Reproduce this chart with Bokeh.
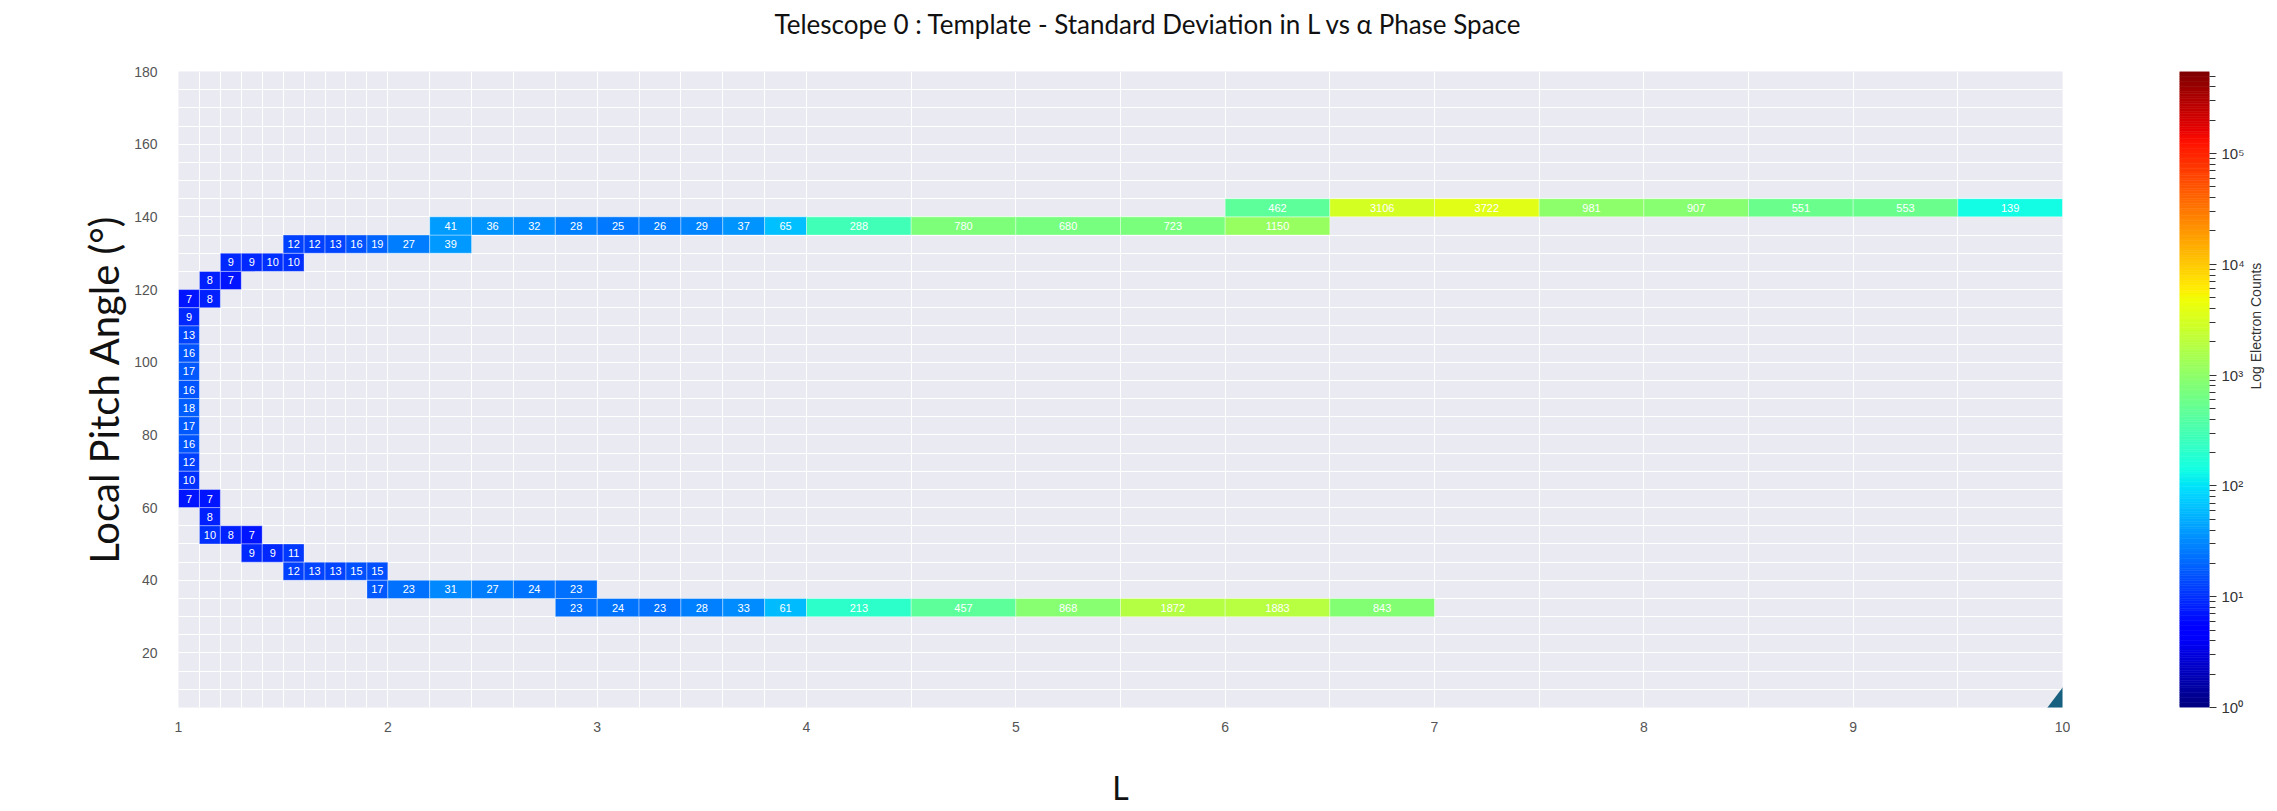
import math
import numpy as np
from bokeh.plotting import figure
from bokeh.models import (ColumnDataSource, LogColorMapper, FixedTicker, Range1d,
                          PolyAnnotation, Title)
from bokeh.layouts import row
from bokeh.embed import file_html
from bokeh.resources import INLINE
from bokeh.core.properties import value

# ---------------- data ----------------
TITLE = "Telescope 0 : Template - Standard Deviation in L vs \u03b1 Phase Space"

# bin edges in L and alpha
L_edges = [1.0, 1.1, 1.2, 1.3, 1.4, 1.5, 1.6, 1.7, 1.8, 1.9, 2.0,
           2.2, 2.4, 2.6, 2.8, 3.0, 3.2, 3.4, 3.6, 3.8, 4.0,
           4.5, 5.0, 5.5, 6.0, 6.5, 7.0, 7.5, 8.0, 8.5, 9.0, 9.5, 10.0]
alpha_edges = [5, 10, 15, 20, 25, 30, 35, 40, 45, 50, 55, 60, 65, 70, 75, 80, 85, 90,
               95, 100, 105, 110, 115, 120, 125, 130, 135, 140, 145, 150, 155, 160,
               165, 170, 175, 180]
alpha_bin = 5

# occupied cells: L start, L end, alpha start, counts
cell_L_lo = [1.0, 1.1,
             1.1, 1.2,
             1.2, 1.3, 1.4, 1.5,
             1.5, 1.6, 1.7, 1.8, 1.9, 2.0, 2.2,
             2.2, 2.4, 2.6, 2.8, 3.0, 3.2, 3.4, 3.6, 3.8, 4.0, 4.5, 5.0, 5.5, 6.0,
             6.0, 6.5, 7.0, 7.5, 8.0, 8.5, 9.0, 9.5,
             1.0, 1.0, 1.0, 1.0, 1.0, 1.0, 1.0, 1.0, 1.0, 1.0,
             1.0, 1.1,
             1.1,
             1.1, 1.2, 1.3,
             1.3, 1.4, 1.5,
             1.5, 1.6, 1.7, 1.8, 1.9,
             1.9, 2.0, 2.2, 2.4, 2.6, 2.8,
             2.8, 3.0, 3.2, 3.4, 3.6, 3.8, 4.0, 4.5, 5.0, 5.5, 6.0, 6.5]
cell_L_hi = [1.1, 1.2,
             1.2, 1.3,
             1.3, 1.4, 1.5, 1.6,
             1.6, 1.7, 1.8, 1.9, 2.0, 2.2, 2.4,
             2.4, 2.6, 2.8, 3.0, 3.2, 3.4, 3.6, 3.8, 4.0, 4.5, 5.0, 5.5, 6.0, 6.5,
             6.5, 7.0, 7.5, 8.0, 8.5, 9.0, 9.5, 10.0,
             1.1, 1.1, 1.1, 1.1, 1.1, 1.1, 1.1, 1.1, 1.1, 1.1,
             1.1, 1.2,
             1.2,
             1.2, 1.3, 1.4,
             1.4, 1.5, 1.6,
             1.6, 1.7, 1.8, 1.9, 2.0,
             2.0, 2.2, 2.4, 2.6, 2.8, 3.0,
             3.0, 3.2, 3.4, 3.6, 3.8, 4.0, 4.5, 5.0, 5.5, 6.0, 6.5, 7.0]
cell_alpha_lo = [115, 115,
                 120, 120,
                 125, 125, 125, 125,
                 130, 130, 130, 130, 130, 130, 130,
                 135, 135, 135, 135, 135, 135, 135, 135, 135, 135, 135, 135, 135, 135,
                 140, 140, 140, 140, 140, 140, 140, 140,
                 110, 105, 100, 95, 90, 85, 80, 75, 70, 65,
                 60, 60,
                 55,
                 50, 50, 50,
                 45, 45, 45,
                 40, 40, 40, 40, 40,
                 35, 35, 35, 35, 35, 35,
                 30, 30, 30, 30, 30, 30, 30, 30, 30, 30, 30, 30]
cell_counts = [7, 8,
               8, 7,
               9, 9, 10, 10,
               12, 12, 13, 16, 19, 27, 39,
               41, 36, 32, 28, 25, 26, 29, 37, 65, 288, 780, 680, 723, 1150,
               462, 3106, 3722, 981, 907, 551, 553, 139,
               9, 13, 16, 17, 16, 18, 17, 16, 12, 10,
               7, 7,
               8,
               10, 8, 7,
               9, 9, 11,
               12, 13, 13, 15, 15,
               17, 23, 31, 27, 24, 23,
               23, 24, 23, 28, 33, 61, 213, 457, 868, 1872, 1883, 843]

x_ticks = [1, 2, 3, 4, 5, 6, 7, 8, 9, 10]
y_ticks = [20, 40, 60, 80, 100, 120, 140, 160, 180]
cbar_ticks = [1, 10, 100, 1000, 10000, 100000]
cbar_tick_labels = ["10\u2070", "10\u00b9", "10\u00b2", "10\u00b3", "10\u2074", "10\u2075"]
count_min = 1
count_max = 5.5e5

# ---------------- jet colormap (matplotlib segments) ----------------
def jet(n):
    x = np.linspace(0, 1, n)
    r = np.interp(x, [0, 0.35, 0.66, 0.89, 1], [0, 0, 1, 1, 0.5])
    g = np.interp(x, [0, 0.125, 0.375, 0.64, 0.91, 1], [0, 0, 1, 1, 0, 0])
    b = np.interp(x, [0, 0.11, 0.34, 0.65, 1], [0.5, 1, 1, 0, 0])
    return ["#%02x%02x%02x" % (int(round(a * 255)), int(round(c * 255)), int(round(d * 255)))
            for a, c, d in zip(r, g, b)]

palette = jet(256)
mapper = LogColorMapper(palette=palette, low=count_min, high=count_max)

# ---------------- main heatmap ----------------
src = ColumnDataSource(dict(
    l0=cell_L_lo, l1=cell_L_hi,
    a0=cell_alpha_lo, a1=[a + alpha_bin for a in cell_alpha_lo],
    xc=[(a + b) / 2 for a, b in zip(cell_L_lo, cell_L_hi)],
    yc=[a + alpha_bin / 2 for a in cell_alpha_lo],
    count=cell_counts, label=[str(c) for c in cell_counts]))

p = figure(frame_width=1884, frame_height=636,
           x_range=Range1d(1, 10), y_range=Range1d(5, 180),
           output_backend="svg", toolbar_location=None,
           min_border_left=178, min_border_right=8, min_border_top=71, min_border_bottom=96,
           background_fill_color="#EAEAF2", border_fill_color="white",
           outline_line_color=None)

# spacer between title and frame (nearest the frame), then the title itself
p.add_layout(Title(text=" ", text_font_size="10px", standoff=12), "above")
p.add_layout(Title(text=TITLE, text_font="Lato", text_font_size="26px",
                   text_font_style="normal", text_color="#111111",
                   align="left", offset=596, standoff=10, vertical_align="top"), "above")

p.quad(left="l0", right="l1", bottom="a0", top="a1", source=src,
       fill_color={"field": "count", "transform": mapper},
       line_color="white", line_alpha=0.35, line_width=1)
p.text(x="xc", y="yc", text="label", source=src, text_align="center",
       text_baseline="middle", text_color="white", text_font_size="11px",
       text_font=value("Liberation Sans"))

p.xgrid.ticker = FixedTicker(ticks=L_edges)
p.ygrid.ticker = FixedTicker(ticks=alpha_edges)
p.grid.grid_line_color = "white"
p.grid.grid_line_width = 1

p.xaxis.ticker = FixedTicker(ticks=x_ticks)
p.yaxis.ticker = FixedTicker(ticks=y_ticks)
for ax in (p.xaxis[0], p.yaxis[0]):
    ax.axis_line_color = None
    ax.major_tick_line_color = None
    ax.minor_tick_line_color = None
    ax.major_label_text_font = "Liberation Sans"
    ax.major_label_text_font_size = "14px"
    ax.major_label_text_color = "#555555"
    ax.axis_label_text_font = "Lato"
    ax.axis_label_text_font_style = "normal"
    ax.axis_label_text_color = "#111111"

p.xaxis.axis_label = "L"
p.xaxis.axis_label_text_font_size = "32px"
p.xaxis.major_label_standoff = 8
p.xaxis.axis_label_standoff = 33
p.yaxis.axis_label = "Local Pitch Angle (\u00b0)"
p.yaxis.axis_label_text_font_size = "40px"
p.yaxis.major_label_standoff = 15
p.yaxis.axis_label_standoff = 3

# part of the slide's teal stroke that crosses the plot corner (canvas pixels)
p.add_layout(PolyAnnotation(xs=[2107.2, 2096.8, 1969.8, 1980.2], ys=[648.9, 641.1, 809.1, 816.9],
                            xs_units="canvas", ys_units="canvas",
                            fill_color="#17607F", fill_alpha=1, line_color=None))

# ---------------- colour bar ----------------
n = len(palette)
edges = np.logspace(np.log10(count_min), np.log10(count_max), n + 1)
cb = figure(frame_width=30, frame_height=636,
            x_range=Range1d(0, 1), y_range=Range1d(count_min, count_max),
            y_axis_type="log", y_axis_location="right",
            output_backend="svg", toolbar_location=None,
            min_border_left=109, min_border_right=0, min_border_top=71, min_border_bottom=96,
            outline_line_color=None, border_fill_color="white", background_fill_color="white")
cb.quad(left=0, right=1, bottom=edges[:-1], top=edges[1:], fill_color=palette,
        line_color=palette, line_width=0.6)
cb.xaxis.visible = False
cb.grid.visible = False
minor = [m * t for t in cbar_ticks for m in range(2, 10) if m * t <= count_max]
cb.yaxis.ticker = FixedTicker(ticks=cbar_ticks, minor_ticks=minor)
cb.yaxis.major_label_overrides = {float(t): lab for t, lab in zip(cbar_ticks, cbar_tick_labels)}
cb.yaxis.axis_line_color = None
cb.yaxis.major_tick_in = 0
cb.yaxis.major_tick_out = 7
cb.yaxis.minor_tick_in = 0
cb.yaxis.minor_tick_out = 6
cb.yaxis.major_tick_line_color = "#333333"
cb.yaxis.minor_tick_line_color = "#333333"
cb.yaxis.major_label_text_font = "Liberation Sans"
cb.yaxis.major_label_text_font_size = "15px"
cb.yaxis.major_label_text_color = "#333333"
cb.yaxis.major_label_standoff = 5
cb.yaxis.axis_label = "Log Electron Counts"
cb.yaxis.axis_label_text_font = "Liberation Sans"
cb.yaxis.axis_label_text_font_style = "normal"
cb.yaxis.axis_label_text_font_size = "14px"
cb.yaxis.axis_label_text_color = "#333333"
cb.yaxis.axis_label_standoff = 8
if "axis_label_orientation" in cb.yaxis[0].properties():
    cb.yaxis.axis_label_orientation = math.pi / 2

layout = row(p, cb, spacing=0)
open("out.html", "w").write(file_html(layout, INLINE))
